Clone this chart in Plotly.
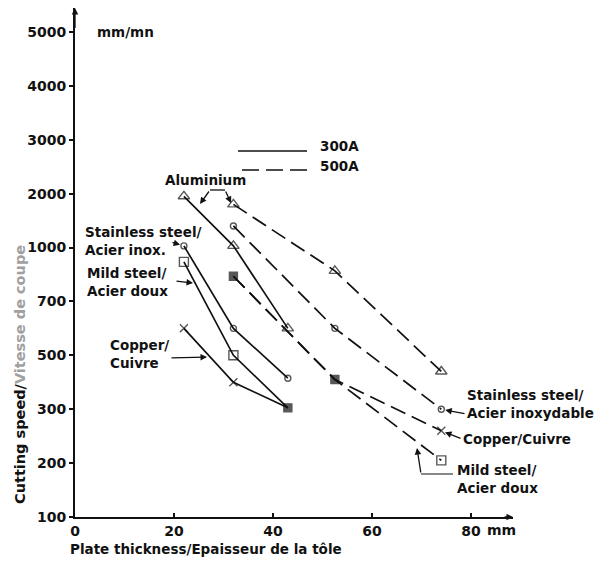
import numpy as np
import plotly.graph_objects as go

# ---------------- data ----------------
y_tick_values = [100, 200, 300, 500, 700, 1000, 2000, 3000, 4000, 5000]
y_tick_labels = ["100", "200", "300", "500", "700", "1000", "2000", "3000", "4000", "5000"]
x_tick_values = [0, 20, 40, 60, 80]
x_tick_labels = ["0", "20", "40", "60", "80"]

thickness_300A = [22, 32, 43]
thickness_500A = [32, 52.5, 74]

aluminium_300A = [1950, 1030, 600]
aluminium_500A = [1800, 870, 440]
stainless_300A = [1030, 600, 415]
stainless_500A = [1400, 600, 300]
mild_steel_300A = [920, 500, 305]
mild_steel_500A = [840, 410, 205]
copper_300A = [600, 400, 305]
copper_500A = [840, 410, 260]


# The original speed axis has its tick labels equally spaced
def yscale(v):
    return np.interp(v, y_tick_values, np.arange(len(y_tick_values)))


# ---------------- layout geometry ----------------
W, H = 616, 569
L, R, T, B = 75, 103, 8, 52
PW, PH = W - L - R, H - T - B
PX_PER_MM = 4.95
PX_PER_TICK = 53.9
X_MAX = PW / PX_PER_MM
Y_MAX = PH / PX_PER_TICK
DASH = "16px,7px"


def dx(p):  # pixel -> x data (layout items inside the plot)
    return (p - L) / PX_PER_MM


def dy(p):  # pixel -> y data
    return (H - B - p) / PX_PER_TICK


def px_(p):  # pixel -> paper x
    return (p - L) / PW


def py_(p):  # pixel -> paper y
    return (H - B - p) / PH


FONT = "DejaVu Sans"
INK = "#111111"

fig = go.Figure()

series = [
    (thickness_300A, aluminium_300A, "solid", ["triangle-up-open"] * 3, [10, 10, 10]),
    (thickness_500A, aluminium_500A, DASH, ["triangle-up-open"] * 3, [10, 10, 10]),
    (thickness_300A, stainless_300A, "solid", ["circle-open"] * 3, [6, 6, 6]),
    (thickness_500A, stainless_500A, DASH, ["circle-open"] * 3, [6, 6, 6]),
    (thickness_300A, mild_steel_300A, "solid", ["square-open", "square-open", "square"], [9, 9, 8]),
    (thickness_500A, mild_steel_500A, DASH, ["square", "square", "square-open"], [8, 8, 9]),
    (thickness_300A, copper_300A, "solid", ["x-thin"] * 3, [8, 8, 0]),
    (thickness_500A, copper_500A, DASH, ["x-thin"] * 3, [0, 0, 8]),
]

for xs, ys, dash, symbols, sizes in series:
    fig.add_trace(go.Scatter(
        x=xs, y=yscale(ys), mode="lines+markers",
        line=dict(color=INK, width=1.7, dash=dash),
        marker=dict(symbol=symbols, size=sizes, color=INK,
                    line=dict(color=INK, width=1.4)),
        showlegend=False, hoverinfo="skip",
    ))

ann = []


def text(t, xp, yp, anchor="left", size=13.5, **kw):
    ann.append(dict(text=t, x=px_(xp - 2), y=py_(yp), xref="paper", yref="paper",
                    xanchor=anchor, yanchor="middle", align="left", showarrow=False,
                    font=dict(family=FONT, size=size, color=INK, weight="bold"), **kw))


def arrow(hx, hy, tx, ty, standoff=0):
    ann.append(dict(text="", x=hx, y=hy, ax=tx, ay=ty, xref="x", yref="y",
                    axref="x", ayref="y", showarrow=True, arrowhead=2,
                    arrowsize=1.0, arrowwidth=1.3, arrowcolor=INK, standoff=standoff))


text("mm/mn", 97, 32)
text("300A", 320, 146)
text("500A", 320, 166)
text("Aluminium", 207, 180, anchor="center")
text("Stainless steel/<br>Acier inox.", 85, 241)
text("Mild steel/<br>Acier doux", 87, 282)
text("Copper/<br>Cuivre", 110, 354)
text("Stainless steel/<br>Acier inoxydable", 467, 404)
text("Copper/Cuivre", 463, 439)
text("Mild steel/<br>Acier doux", 457, 479)
text("mm", 487, 530, size=14)
text("Plate thickness/Epaisseur de la tôle", 70, 549)
ann.append(dict(text="Cutting speed/<span style='color:#a0a0a0'>Vitesse de coupe</span>",
                x=px_(20), y=py_(375), xref="paper", yref="paper", textangle=-90,
                showarrow=False, xanchor="center", yanchor="middle",
                font=dict(family=FONT, size=14.5, color=INK, weight="bold")))

# pointer arrows
arrow(dx(200), dy(204), dx(210), dy(190))
arrow(dx(231), dy(203), dx(225), dy(190))
arrow(thickness_300A[0], yscale(stainless_300A[0]), dx(171), dy(242), standoff=4)
arrow(dx(193), dy(283), dx(175), dy(281))
arrow(dx(207), dy(357), dx(170), dy(358))
arrow(thickness_500A[2], yscale(stainless_500A[2]), dx(466), dy(414), standoff=4)
arrow(thickness_500A[2], yscale(copper_500A[2]), dx(462), dy(439), standoff=4)
arrow(dx(417), dy(448), dx(421), dy(474))

# axis arrowheads
arrow(0, Y_MAX, 0, Y_MAX - 0.4)
arrow(X_MAX, 0, X_MAX - 2, 0)

shapes = [
    dict(type="line", x0=dx(238), x1=dx(307), y0=dy(151), y1=dy(151),
         xref="x", yref="y", line=dict(color=INK, width=1.7)),
    dict(type="line", x0=dx(242), x1=dx(307), y0=dy(170), y1=dy(170),
         xref="x", yref="y", line=dict(color=INK, width=1.7, dash="17px,7px")),
    dict(type="line", x0=dx(210), x1=dx(225), y0=dy(190), y1=dy(190),
         xref="x", yref="y", line=dict(color=INK, width=1.3)),
    dict(type="line", x0=dx(421), x1=dx(453), y0=dy(474), y1=dy(474),
         xref="x", yref="y", line=dict(color=INK, width=1.0)),
]

fig.update_layout(
    width=W, height=H, autosize=False,
    margin=dict(l=L, r=R, t=T, b=B, pad=0),
    paper_bgcolor="white", plot_bgcolor="white",
    annotations=ann, shapes=shapes, showlegend=False,
    xaxis=dict(range=[0, X_MAX], tickvals=x_tick_values, ticktext=x_tick_labels,
               showgrid=False, zeroline=False, showline=True, linecolor=INK, linewidth=2,
               ticks="inside", ticklen=4, tickwidth=1.5, tickcolor=INK,
               tickfont=dict(family=FONT, size=14, color=INK, weight="bold")),
    yaxis=dict(range=[0, Y_MAX], tickvals=list(range(len(y_tick_values))),
               ticktext=y_tick_labels,
               showgrid=False, zeroline=False, showline=True, linecolor=INK, linewidth=2,
               ticks="outside", ticklen=4, tickwidth=1.5, tickcolor=INK,
               tickfont=dict(family=FONT, size=14, color=INK, weight="bold")),
)

fig.write_html("out.html", config={"displayModeBar": False},
               post_script="document.body.style.margin='0px';")
